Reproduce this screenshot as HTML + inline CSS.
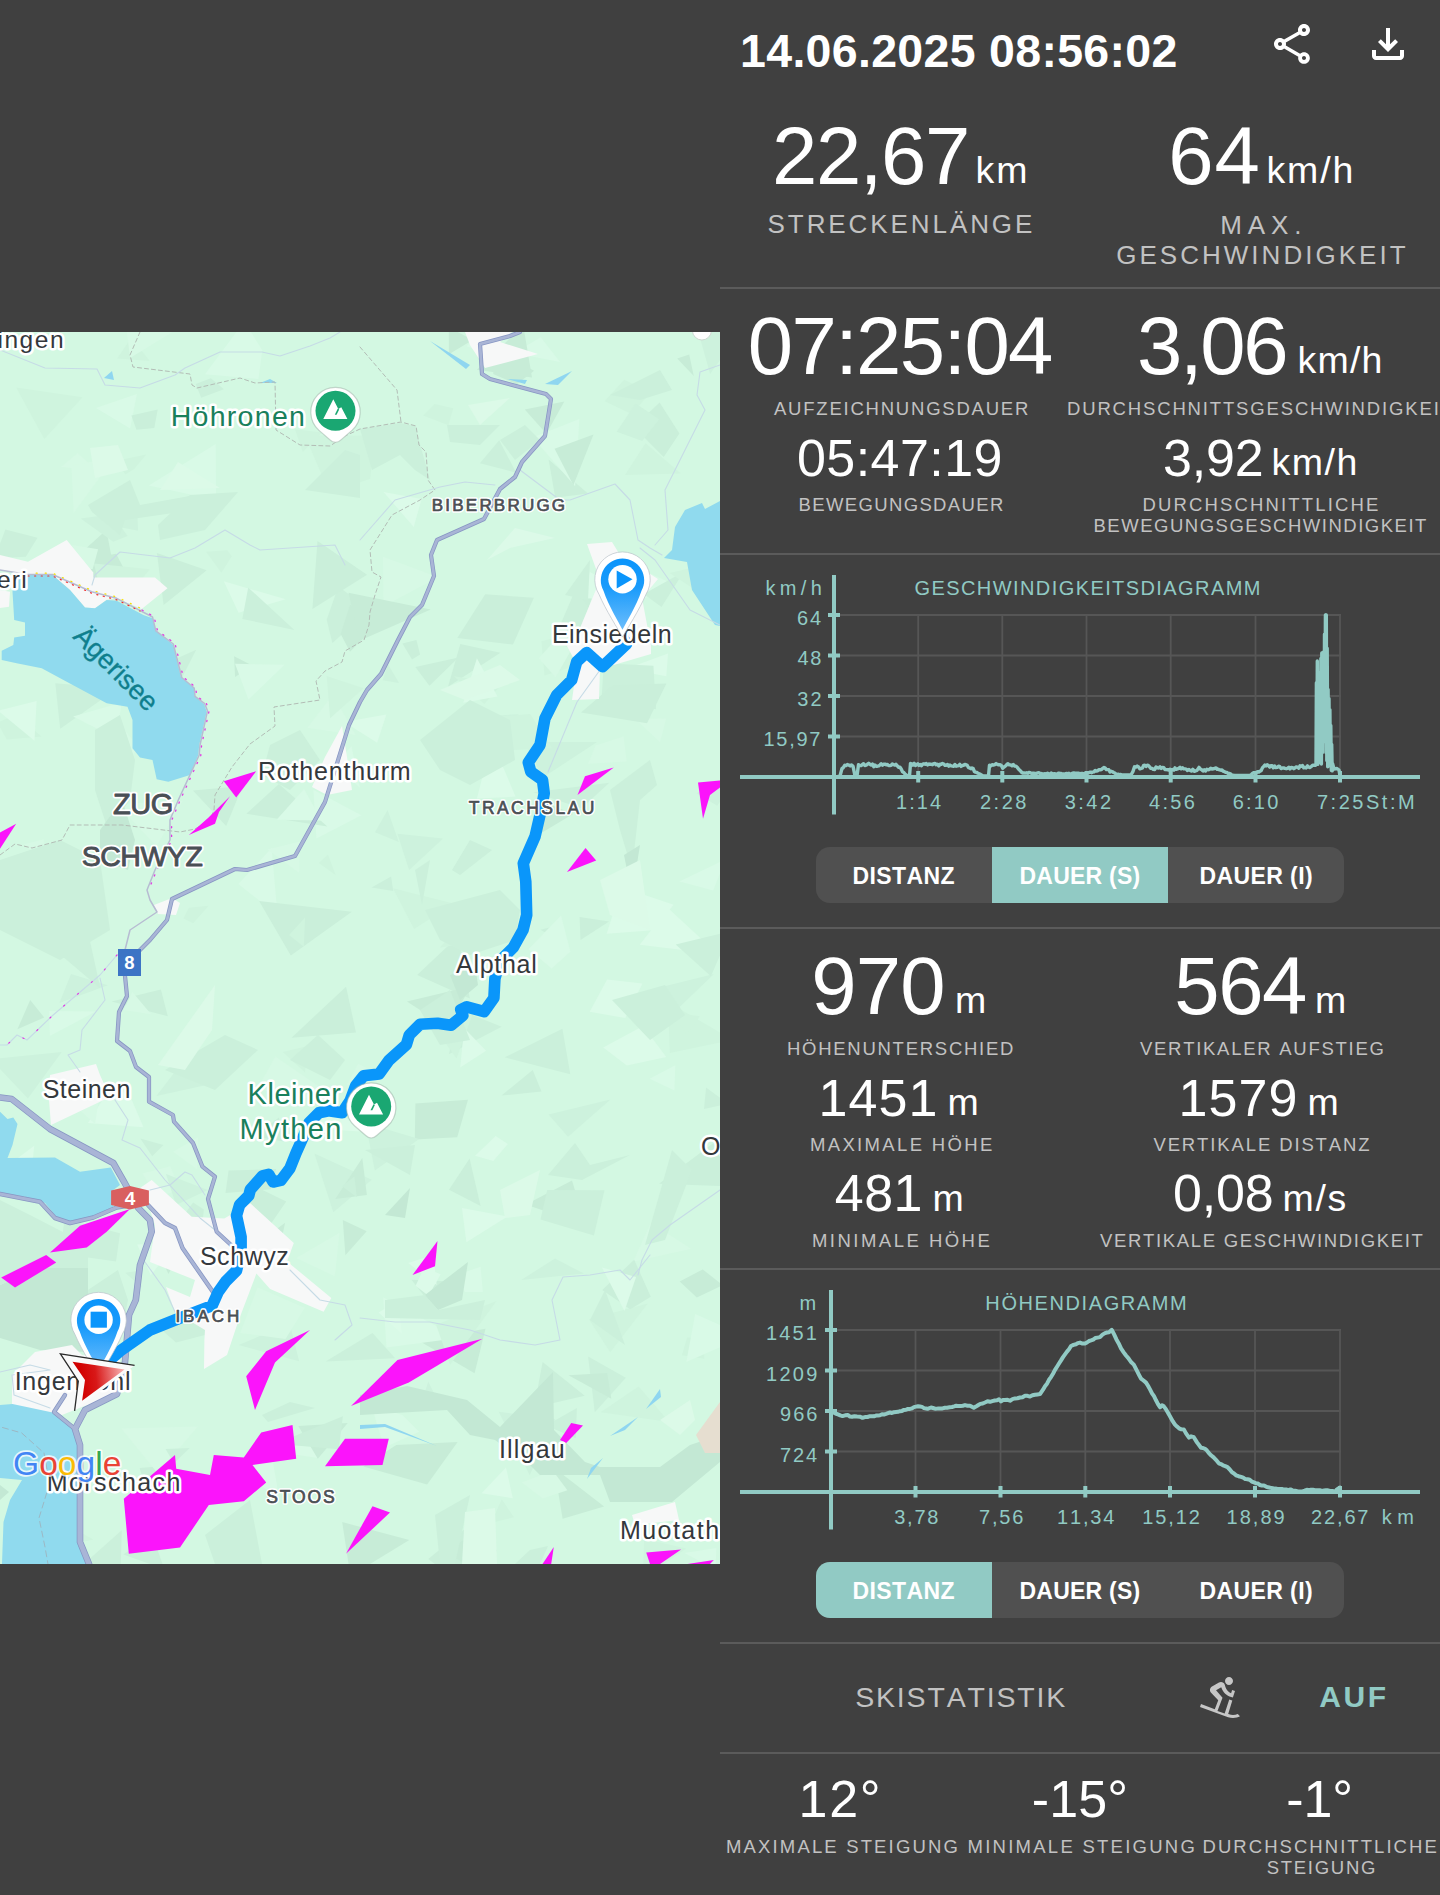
<!DOCTYPE html>
<html lang="de"><head><meta charset="utf-8"><title>Track 14.06.2025 08:56:02</title>
<style>
html,body{margin:0;padding:0}
body{width:1440px;height:1895px;overflow:hidden;background:#404040;position:relative;font-family:"Liberation Sans",sans-serif}
.t{position:absolute;white-space:nowrap;line-height:1;font-kerning:none}
.r{position:absolute;display:block}
#map{position:absolute;left:0;top:332px;width:720px;height:1232px;overflow:hidden;background:#d3f8e2}
</style></head><body>
<div id="map"><svg width="720" height="1232" viewBox="0 332 720 1232" style="display:block;font-family:'Liberation Sans',sans-serif;font-kerning:none"><polygon points="291.6,1037.7 346.1,986.7 356,1032.6" fill="#caefda" />
<polygon points="371.1,1404.8 402.7,1415.3 419.2,1431.8 384.2,1447.5" fill="#d9fae7" />
<polygon points="411.5,1279.8 453.7,1281.5 431.6,1305.2" fill="#caefda" />
<polygon points="505.6,730.6 494.7,715.7 518.7,714.2" fill="#cdf2dd" />
<polygon points="144.1,1483.1 139.6,1468.1 160.8,1466.3 166.2,1477.3" fill="#caefda" />
<polygon points="85.3,1208.6 94.3,1195.5 106.1,1203.1 97.6,1210.3" fill="#d7f9e5" />
<polygon points="735,338.8 710.1,374.1 691.1,306" fill="#cdf2dd" />
<polygon points="720.6,581.7 727.4,597.7 700.2,597.1" fill="#c7ecd7" />
<polygon points="238.4,884 271.6,848.1 277.5,915" fill="#d9fae7" />
<polygon points="113.7,1082.2 131.7,1099.7 143.5,1127.2 87.9,1123.1" fill="#dcfbe9" />
<polygon points="277.5,1451.9 324,1430.5 318.2,1458" fill="#d9fae7" />
<polygon points="546.4,433.8 524.8,409.4 564.3,401.4" fill="#c7ecd7" />
<polygon points="480.6,1205.9 449,1189.7 469.6,1158.4" fill="#caefda" />
<polygon points="366.7,1231.2 345.4,1255.3 342.8,1220.1" fill="#c7ecd7" />
<polygon points="276.2,1169.1 270.7,1189.3 225.5,1193 228.6,1170.6" fill="#caefda" />
<polygon points="473.2,1522.4 496.6,1550.5 464.1,1586.4 428.3,1558.9" fill="#caefda" />
<polygon points="326.7,619.8 338.3,586.5 369.4,609.6 332.4,642.9" fill="#cbf0db" />
<polygon points="350,651.7 340.7,633.9 350,604.7 375.4,625.6" fill="#c7ecd7" />
<polygon points="625.8,1377.8 594.8,1412.3 588.1,1356.6" fill="#cbf0db" />
<polygon points="462,1207.9 507.5,1216.5 466.4,1242.2" fill="#dcfbe9" />
<polygon points="448.8,1054.3 460.1,1010 501.7,1026.8" fill="#cbf0db" />
<polygon points="59.4,1003 71,974 107.8,985.2" fill="#cdf2dd" />
<polygon points="117.2,647.5 141.6,674.4 104.8,676.2" fill="#cff4de" />
<polygon points="367,574.8 312.4,609 317.5,541.1" fill="#caefda" />
<polygon points="197.9,1426.6 157.8,1473.4 121.2,1428.5" fill="#d7f9e5" />
<polygon points="555.7,926 562.3,942.4 540.5,929.8" fill="#cbf0db" />
<polygon points="718,954.3 639.7,944.7 668.3,908.2" fill="#dcfbe9" />
<polygon points="242.6,786.1 226.2,826 193,790.5" fill="#caefda" />
<polygon points="380.6,1075.5 367.2,1083.8 346.8,1084.8 358.2,1063.8" fill="#d7f9e5" />
<polygon points="183.4,918.4 188.9,907.7 208.7,905.7 193.2,923.2" fill="#cff4de" />
<polygon points="156.8,1198.3 142.5,1173.5 170.3,1166.2 179.6,1189" fill="#d7f9e5" />
<polygon points="418.5,1340.4 485.5,1328.8 474.6,1373.2" fill="#c7ecd7" />
<polygon points="666.1,718.4 660,742.3 635.5,718.9" fill="#d7f9e5" />
<polygon points="68.5,1335.5 78,1369.2 48.3,1360.8" fill="#c7ecd7" />
<polygon points="50.9,946.4 85.8,921.9 100.4,988.5" fill="#cbf0db" />
<polygon points="116.1,553.8 125.4,571.5 83.2,559.3" fill="#c7ecd7" />
<polygon points="299.2,873 267.4,849.4 299.9,841.5" fill="#d7f9e5" />
<polygon points="675.3,1065.2 674.4,1090.4 649.7,1078.7" fill="#d9fae7" />
<polygon points="350.4,1576 342.2,1522.1 409.3,1539.9" fill="#c7ecd7" />
<polygon points="555,1258.5 584,1273.6 521.2,1280" fill="#cdf2dd" />
<polygon points="148.1,1517 127.2,1480.8 190.6,1473.2 197.1,1521.2" fill="#cdf2dd" />
<polygon points="61.1,466.7 77.7,453.1 97.8,471.3" fill="#d7f9e5" />
<polygon points="667.9,1002.1 732.5,1039.9 669.8,1053.1" fill="#cff4de" />
<polygon points="589.7,1011.8 607.1,979.6 642.5,983.4 625.3,1018.1" fill="#dcfbe9" />
<polygon points="6.9,1264.6 52.5,1274.4 57,1295.9 0.5,1288.2" fill="#d9fae7" />
<polygon points="290.8,955.6 259.1,900.9 351.8,911.8" fill="#caefda" />
<polygon points="43.8,839.2 43.4,859.2 23.4,844.6" fill="#d7f9e5" />
<polygon points="275.3,1268.9 222.5,1268.9 285.1,1222.7" fill="#c7ecd7" />
<polygon points="190.4,1051.8 224.6,1081 156.4,1095.9" fill="#cdf2dd" />
<polygon points="472.6,339.9 448.9,354.2 448.8,327.2" fill="#c7ecd7" />
<polygon points="334.2,764.7 351.5,746.2 359.9,787.8" fill="#d9fae7" />
<polygon points="334.8,1276.2 296.1,1258.1 339.5,1232.8" fill="#d7f9e5" />
<polygon points="460.2,1067.4 464.1,1027.9 486.2,1050.7" fill="#dcfbe9" />
<polygon points="152.2,1156.3 140.3,1138.4 163.5,1145.1" fill="#cbf0db" />
<polygon points="457.6,1442.1 427.1,1484.4 363.3,1466.5 396.3,1445.1" fill="#c7ecd7" />
<polygon points="34.2,1145.8 30,1188.6 -12.7,1181" fill="#dcfbe9" />
<polygon points="586.2,617.2 575.4,602.7 593.2,592.4" fill="#caefda" />
<polygon points="235.1,676.9 234.1,656.3 252.2,665.5" fill="#c7ecd7" />
<polygon points="573.1,814.1 537.1,835.6 544.3,802" fill="#c7ecd7" />
<polygon points="647.8,1303.6 610.2,1352.2 588.9,1319.3" fill="#cff4de" />
<polygon points="717.2,805.8 696.6,793.3 712.7,782.9 732.2,783.7" fill="#cdf2dd" />
<polygon points="540.8,337.2 560.1,362 513.9,352.9" fill="#d9fae7" />
<polygon points="347.7,1423.1 317.8,1458.7 298.3,1425.9" fill="#c7ecd7" />
<polygon points="480.6,1266.8 482.8,1292.1 465,1291.9 456.7,1274.9" fill="#d9fae7" />
<polygon points="600.7,1412.2 638.6,1386.4 669.1,1422.1" fill="#cff4de" />
<polygon points="444,1552.1 470.2,1536.1 467.4,1564.7" fill="#c7ecd7" />
<polygon points="178.6,1222.3 193.1,1202.4 203.9,1209.4 201.7,1227.5" fill="#cbf0db" />
<polygon points="167.8,1016.3 111.6,1001.5 160.9,989.6" fill="#caefda" />
<polygon points="479.9,463.3 499.2,440.3 516.2,472.7" fill="#cbf0db" />
<polygon points="542.6,1362.1 584.7,1395.7 534.2,1407.5" fill="#caefda" />
<polygon points="163.6,605.1 156.9,552.9 206.7,570.2" fill="#caefda" />
<polygon points="95,1123.9 81.1,1111.3 98.9,1099.2" fill="#d7f9e5" />
<polygon points="597,742.1 542.8,777.5 524.4,741.9" fill="#cdf2dd" />
<polygon points="532.7,1070 541.5,1091.6 501.4,1095.6" fill="#caefda" />
<polygon points="395.1,596.5 387,564 420.4,581.3" fill="#cff4de" />
<polygon points="438.3,577.3 383.5,606.2 383,556.8" fill="#d7f9e5" />
<polygon points="468.5,751.8 483.1,717.5 530.2,714.1 552.2,748.3" fill="#cff4de" />
<polygon points="644.1,1538.7 686.2,1548.6 643,1578.4" fill="#cff4de" />
<polygon points="151.1,1014.3 123.6,1009.9 132.4,992" fill="#d7f9e5" />
<polygon points="457.2,1137.3 414.8,1139.4 415.4,1103.4 468,1099.8" fill="#c7ecd7" />
<polygon points="61.5,1275.7 68.9,1302.9 25,1326.5 3.3,1282.7" fill="#cbf0db" />
<polygon points="621.6,887.3 673.7,904.7 652.8,930.3 606.6,933.7" fill="#dcfbe9" />
<polygon points="498.7,1411.7 555.3,1419.2 529.7,1475.2" fill="#cdf2dd" />
<polygon points="304.8,435.2 374.8,435.8 370.2,478.8 329.4,492.7" fill="#cff4de" />
<polygon points="176.8,1242.7 150.7,1275.3 137.2,1244.4" fill="#dcfbe9" />
<polygon points="-5.5,558.4 5.4,529.6 37.5,537.8 25.8,556.8" fill="#cbf0db" />
<polygon points="603.6,552.1 669.2,582.2 615.8,618" fill="#d9fae7" />
<polygon points="430.7,609.6 359.4,640.7 348.5,592.8" fill="#c7ecd7" />
<polygon points="512.8,1498.2 481.6,1493.3 506,1467.4" fill="#dcfbe9" />
<polygon points="609.3,782.8 581.6,808.2 533.4,792.3" fill="#cbf0db" />
<polygon points="679.4,881.5 725.7,859.3 713.1,890.4" fill="#d9fae7" />
<polygon points="175.5,690.3 143.3,673.5 196.2,649.7" fill="#cbf0db" />
<polygon points="82.5,397.3 44.3,439 16.2,387.4" fill="#cff4de" />
<polygon points="415.6,1285.7 424.1,1267.6 440.7,1274.3 428.5,1295.8" fill="#dcfbe9" />
<polygon points="-9.1,1059.3 61.8,1052 27.9,1098.4" fill="#cdf2dd" />
<polygon points="34.8,1444 74.3,1429.7 49.9,1477.2" fill="#dcfbe9" />
<polygon points="528.3,949.2 561,915.5 570.4,951.7 551.7,968.4" fill="#d9fae7" />
<polygon points="501.7,1499.3 514,1517.3 491.2,1522.9" fill="#cff4de" />
<polygon points="95.7,1011.6 49.9,1036 49.1,1010.9" fill="#d9fae7" />
<polygon points="302.8,452.1 294.9,429.3 322.2,432.6" fill="#cff4de" />
<polygon points="316.4,838.4 313.4,789.8 361.4,815.3" fill="#d9fae7" />
<polygon points="408.3,1263 433.5,1254.7 436.6,1285.1" fill="#dcfbe9" />
<polygon points="417.2,975 458.5,936.1 469.8,998.6" fill="#caefda" />
<polygon points="41.6,736.6 6.7,739.4 -2.6,722.7 15.8,715" fill="#cff4de" />
<polygon points="-1.8,710.8 36.6,701.1 34.5,740.7" fill="#dcfbe9" />
<polygon points="371.5,887.5 391.1,876.5 393.2,891" fill="#cbf0db" />
<polygon points="386.5,1347.5 383.2,1297.2 458.4,1338.1" fill="#d9fae7" />
<polygon points="594.8,659.8 544.5,675.6 541.4,641.2 585.3,629.6" fill="#cff4de" />
<polygon points="259.5,1188.6 286.2,1201.6 261.1,1237.9 234.3,1204.1" fill="#caefda" />
<polygon points="668,653.5 666.3,676.3 626.4,668.8" fill="#dcfbe9" />
<polygon points="173.1,1151.7 198.1,1137.3 197.1,1169.3" fill="#d7f9e5" />
<polygon points="423.1,415.6 434.6,403.9 453.3,408.2 448.4,425.3" fill="#cff4de" />
<polygon points="429.4,685.8 415.4,667 458.5,657.5" fill="#caefda" />
<polygon points="472.5,1014.4 456.5,1058.6 421.1,1008.6" fill="#cff4de" />
<polygon points="687.1,1337.5 703.7,1338.1 704.3,1358.7 681.9,1355.2" fill="#cff4de" />
<polygon points="691.2,1248.7 633,1261.8 650.8,1222.8" fill="#d7f9e5" />
<polygon points="604.7,401.3 624.3,379.7 650.8,392.4 631.4,414" fill="#cff4de" />
<polygon points="397.4,833.7 443,838.6 409.1,870.1" fill="#cdf2dd" />
<polygon points="371.7,1179.8 333.3,1212.3 314.4,1153.4" fill="#cdf2dd" />
<polygon points="119.6,1602.1 81.3,1566.2 121.8,1530.3" fill="#cbf0db" />
<polygon points="136.9,394 130.1,428.5 95.9,408.1" fill="#d9fae7" />
<polygon points="402,1333.9 378.6,1312.4 398,1300.8" fill="#dcfbe9" />
<polygon points="413.7,527.1 383.5,492 421.6,499" fill="#dcfbe9" />
<polygon points="486.7,353.2 466.7,346.3 491.9,319.9" fill="#d9fae7" />
<polygon points="374.8,1170.4 365.5,1123 419.1,1138.9" fill="#cdf2dd" />
<polygon points="669.9,1016.3 664.6,986.2 713.9,974.1" fill="#cdf2dd" />
<polygon points="572.5,647.8 555.6,677.2 538.6,658.3 551.7,643.9" fill="#d7f9e5" />
<polygon points="165.5,1448.9 189.7,1448 174,1463.2" fill="#cbf0db" />
<polygon points="248.5,699.5 235,663.8 284.5,664.8" fill="#d9fae7" />
<polygon points="125.3,474.6 116.4,460.7 146.3,454.4 134.2,468.9" fill="#cff4de" />
<polygon points="252,1259.3 232.6,1276.4 212.4,1256.3 224,1251" fill="#c7ecd7" />
<polygon points="650.8,1296.7 630.3,1309.3 602.3,1290 634.2,1259.8" fill="#caefda" />
<polygon points="60,1253.5 64.6,1219.1 120,1233.2 116,1261.4" fill="#cbf0db" />
<polygon points="201.2,397.7 195.7,384.1 210.9,378.2 223.9,389.2" fill="#cbf0db" />
<polygon points="106.4,530 118.3,593 41.6,588.6" fill="#c7ecd7" />
<polygon points="159.3,1327.7 186.7,1313.6 210.7,1333.4 176.1,1342.5" fill="#cbf0db" />
<polygon points="636.1,1276.9 624.5,1311.1 602,1267.6" fill="#dcfbe9" />
<polygon points="98.1,549.3 92.7,569 63.5,573.8 72.5,544.9" fill="#d7f9e5" />
<polygon points="289.6,1323.2 299.1,1361.3 238.7,1345.1" fill="#cdf2dd" />
<polygon points="71.4,465.6 114.6,457.6 73.7,512.9" fill="#d7f9e5" />
<polygon points="136.4,429.8 131.4,415.6 157.7,409.4 154.3,428" fill="#caefda" />
<polygon points="603.8,663.3 653.4,665.8 656.1,709.3 601.5,699.5" fill="#cbf0db" />
<polygon points="500.4,652.7 448,686.7 460.3,643.9" fill="#caefda" />
<polygon points="568.5,1375.2 607.2,1372.9 611.3,1398.8" fill="#c7ecd7" />
<polygon points="695.2,1313.9 745.1,1336.2 686.3,1361.9" fill="#d9fae7" />
<polygon points="716.4,1547.9 715.4,1569.6 684.5,1553" fill="#d9fae7" />
<polygon points="395.1,1358.2 325.6,1361.6 372.5,1333.1" fill="#cbf0db" />
<polygon points="587.9,493.6 555.3,497.7 548.6,459.6" fill="#caefda" />
<polygon points="532.6,437.5 579.4,419 575.1,486.2" fill="#d9fae7" />
<polygon points="392.9,888.2 453.5,903.4 414.1,928.9" fill="#cff4de" />
<polygon points="322.1,1088.5 290.8,1107.1 258.8,1086 275.4,1056.5" fill="#d7f9e5" />
<polygon points="55.3,683.2 117.1,688.5 60.2,728.7" fill="#cbf0db" />
<polygon points="164.2,1569 123.4,1554.6 152.3,1534.4" fill="#cbf0db" />
<polygon points="284,1141.5 254.8,1136.4 278.9,1117.4" fill="#caefda" />
<polygon points="534.1,370.7 516.8,384.3 493.2,373.9 496.8,350.8" fill="#c7ecd7" />
<polygon points="637.7,600.1 584.5,598.2 589.6,571.8" fill="#dcfbe9" />
<polygon points="562.6,1518.8 554.3,1468.1 604.1,1506.6" fill="#c7ecd7" />
<polygon points="113.2,541.8 80.7,518.5 111.9,514.2 127.6,535.9" fill="#cdf2dd" />
<polygon points="579.6,917 609.1,921.4 580.5,939.9" fill="#caefda" />
<polygon points="342.9,1416.2 338.8,1449.2 275.7,1443.8" fill="#caefda" />
<polygon points="643.9,594 683.7,571.8 661.5,607.1" fill="#cbf0db" />
<polygon points="362.3,1157.9 366.9,1195.1 335.3,1199.1" fill="#c7ecd7" />
<polygon points="240.3,1332.9 257.6,1287.5 304.7,1307.8 285.5,1339" fill="#d7f9e5" />
<polygon points="416.4,639.9 420.1,654.6 412,659.4 402.4,643.6" fill="#caefda" />
<polygon points="168.5,1274.1 157.1,1249.4 177.3,1256.9" fill="#c7ecd7" />
<polygon points="573.4,485.2 554.6,448.8 593.5,434.4" fill="#c7ecd7" />
<polygon points="491.8,740.4 515.5,796.6 476.9,798.6" fill="#dcfbe9" />
<polygon points="484.3,703.9 453.9,676.3 501.9,683.7" fill="#cff4de" />
<polygon points="406.9,1001.4 470.9,986.2 447.4,1027.6" fill="#c7ecd7" />
<polygon points="238.6,612.8 223.8,581.3 285.7,599.3" fill="#dcfbe9" />
<polygon points="680.8,473.5 625,475.1 645.5,443.3" fill="#cff4de" />
<polygon points="714.2,1142.6 748.2,1187.1 659,1183.7" fill="#caefda" />
<polygon points="289.1,935 305.1,917.4 303.8,946.7" fill="#cff4de" />
<polygon points="609.9,1481.3 626.4,1471.2 626.2,1487.5" fill="#dcfbe9" />
<polygon points="689.2,354.5 693.8,376 677.2,358.6" fill="#c7ecd7" />
<polygon points="156.6,846.3 116.3,804.3 182.8,800.7" fill="#d7f9e5" />
<polygon points="106.1,524.6 136.8,501.8 138.1,530.8" fill="#cdf2dd" />
<polygon points="116.6,634.4 125.9,608.1 149.4,621.3" fill="#d9fae7" />
<polygon points="30.2,1000.1 44.2,1017.5 17.4,1029.3" fill="#c7ecd7" />
<polygon points="669.6,573.1 730.7,558.8 721,606.8" fill="#cff4de" />
<polygon points="149.8,569.3 107,620.5 94,563.4" fill="#cff4de" />
<polygon points="533.9,597.7 513,644.5 457.3,637.9 485.2,594.3" fill="#caefda" />
<polygon points="206,551.8 227.3,550.2 231.8,556.3 221.4,572.8" fill="#cff4de" />
<polygon points="110.3,770.9 97.5,735.1 113.4,716.5 140.2,748.8" fill="#d7f9e5" />
<polygon points="382.6,680.2 388,664.2 399.1,682.9" fill="#cdf2dd" />
<polygon points="149.8,361 117.2,358.5 131.1,338.1" fill="#cff4de" />
<polygon points="603.2,1047.5 643.1,1026 666.3,1057.1 626.8,1065.4" fill="#dcfbe9" />
<polygon points="521.8,1482.4 552.9,1470.7 567.4,1490.2 542.5,1498.4" fill="#d7f9e5" />
<polygon points="475,1155.8 495.6,1135.9 507.9,1144.1 493.3,1161.1" fill="#dcfbe9" />
<polygon points="575.8,588.7 605.4,631.6 556.8,632.9" fill="#cbf0db" />
<polygon points="73.1,716.5 121.6,702.4 116.5,738.4" fill="#d9fae7" />
<polygon points="572,1180.6 585.5,1224.9 525.8,1204.6" fill="#c7ecd7" />
<polygon points="315.8,1128.4 330,1105.4 363.8,1131.8" fill="#dcfbe9" />
<polygon points="706.1,1087.6 727.9,1103.6 704,1109.1" fill="#cbf0db" />
<polygon points="439.8,947.8 461.7,923.1 476.3,941.3" fill="#cff4de" />
<polygon points="377.1,742.8 344.2,722.1 386.4,714.6" fill="#dcfbe9" />
<polygon points="696.8,1297.5 679.7,1281.4 702.7,1269.4 722.7,1285.1" fill="#c7ecd7" />
<polygon points="192.3,737.3 159.8,739.7 164.8,721.7" fill="#cbf0db" />
<polygon points="634,427.1 659.6,402.6 679.4,433.4 663.7,456.9" fill="#caefda" />
<polygon points="141.4,1287.3 125.3,1272.8 142.4,1270.3" fill="#cdf2dd" />
<polygon points="318.8,862.9 328,854.5 335.8,875.3" fill="#cff4de" />
<polygon points="710.9,976.2 675.7,944.6 730.4,931.1" fill="#cbf0db" />
<polygon points="278.9,784.1 327.4,826.5 246.3,813.8" fill="#caefda" />
<polygon points="244.4,321.4 262.3,350.3 258.4,379 205,374.2" fill="#d9fae7" />
<polygon points="307.3,727.8 332.9,694.4 355.7,734.9" fill="#d7f9e5" />
<polygon points="642.2,441.1 616.7,431.7 635.5,403.4 659.3,419.2" fill="#cdf2dd" />
<polygon points="626.7,761.6 588.1,763.8 595.6,745.5 623.6,736.6" fill="#d7f9e5" />
<polygon points="31.9,1553.6 38.4,1509.8 93.4,1539.6" fill="#cff4de" />
<polygon points="504.7,1057.3 562.4,1028.7 570.3,1074.2" fill="#cbf0db" />
<polygon points="463.2,702.8 476.9,658.3 497.5,696.6" fill="#dcfbe9" />
<polygon points="244.9,1280 244.7,1260.6 268.2,1262.8" fill="#cdf2dd" />
<polygon points="387.6,809.9 398.8,841.9 375,832.2" fill="#cdf2dd" />
<polygon points="354.4,1176.4 356.9,1197.3 342.1,1186.3" fill="#cbf0db" />
<polygon points="523.3,325.6 532,377.5 476.9,369.8" fill="#c7ecd7" />
<polygon points="575.7,1438.2 546,1425.4 576.9,1408.1" fill="#cbf0db" />
<polygon points="294.4,630 242.3,618.9 248.2,587.5" fill="#cbf0db" />
<polygon points="439.9,1405.2 423.4,1396.9 428.3,1381.6" fill="#cdf2dd" />
<polygon points="330.1,718.3 326.7,676.1 363.5,688.2" fill="#cff4de" />
<polygon points="148.8,485.5 215.7,444.1 216,500" fill="#d9fae7" />
<polygon points="276.6,819.8 304,788.9 321.7,820.4" fill="#d9fae7" />
<polygon points="237,1468.7 270.1,1445.5 279.2,1498.4" fill="#d9fae7" />
<polygon points="20.2,641.3 87,601.3 59.7,658.3" fill="#cff4de" />
<polygon points="540.5,1219.4 547.2,1189.9 604.5,1190.3 593.9,1235.5" fill="#cbf0db" />
<polygon points="496.5,1300.9 450.1,1364.8 436.1,1324.7" fill="#cff4de" />
<polygon points="673.3,1012.4 699.9,1016.3 686.4,1034.8" fill="#cff4de" />
<polygon points="610.4,1099.4 568,1136.8 548.6,1114.4" fill="#cdf2dd" />
<polygon points="613,685.3 666.4,683.5 647,723.2 581,712.4" fill="#caefda" />
<polygon points="207.8,1189.9 176,1204.9 166,1174" fill="#cdf2dd" />
<polygon points="305.1,1072.6 282.7,1052.1 306.8,1046.2" fill="#cff4de" />
<polygon points="126.4,327.2 173.8,331.3 130.1,358" fill="#d7f9e5" />
<polygon points="88,505 130,480 140,505 195,495 180,512 125,520 120,535 92,512" fill="#cbf0db" />
<polygon points="158,525 190,495 238,492 205,530 160,540" fill="#cbf0db" />
<polygon points="160,490 178,462 220,488" fill="#dcfae8" />
<polygon points="90,448 118,445 128,470 95,478" fill="#dcfae8" />
<polygon points="305,490 345,450 360,455 360,498" fill="#cbf0db" />
<polygon points="360,429 400,423 415,426 430,480 415,470 400,455 372,470" fill="#cbf0db" />
<polygon points="447,425 500,425 480,445 450,442" fill="#cbf0db" />
<polygon points="500,440 525,425 540,440 515,460" fill="#cbf0db" />
<polygon points="468,405 510,398 480,425" fill="#dcfae8" />
<polygon points="610,395 660,370 672,390 640,400" fill="#cbf0db" />
<polygon points="487,560 515,528 555,538 510,548" fill="#dcfae8" />
<polygon points="565,595 590,560 588,600" fill="#cbf0db" />
<polygon points="95,730 120,715 135,760 130,800 108,830 95,790" fill="#cbf0db" />
<polygon points="100,830 122,800 135,840 128,870 100,860" fill="#c3e8d4" />
<polygon points="0,860 60,840 100,860 110,930 60,960 0,930" fill="#cbf0db" />
<polygon points="270,745 300,730 320,760 290,790 262,775" fill="#cbf0db" />
<polygon points="420,740 470,700 510,720 515,760 470,785 440,770" fill="#cbf0db" />
<polygon points="440,690 500,665 520,680 465,700" fill="#dcfae8" />
<polygon points="610,790 650,760 657,785 640,800 632,870 620,830" fill="#cbf0db" />
<polygon points="624,855 640,845 632,895" fill="#c3e8d4" />
<polygon points="452,870 470,840 492,850 460,875" fill="#cbf0db" />
<polygon points="415,870 430,860 422,905" fill="#cbf0db" />
<polygon points="425,910 500,890 520,910 515,940 470,955 440,940" fill="#cbf0db" />
<polygon points="600,880 640,860 650,930 610,915" fill="#dcfae8" />
<polygon points="450,975 475,965 478,985 460,1000" fill="#c3e8d4" />
<polygon points="420,1010 450,990 470,1040 440,1045" fill="#cbf0db" />
<polygon points="165,1070 225,1035 258,1050 215,1090" fill="#cbf0db" />
<polygon points="158,1065 215,985 212,1030 185,1070" fill="#dcfae8" />
<polygon points="290,1060 318,1035 345,1060 330,1080" fill="#cbf0db" />
<polygon points="612,1000 665,985 685,1015 650,1040" fill="#cbf0db" />
<polygon points="548,1175 575,1143 590,1165 630,1155 582,1180" fill="#cbf0db" />
<polygon points="365,1150 415,1145 410,1175" fill="#cbf0db" />
<polygon points="385,1215 410,1188 405,1218" fill="#c3e8d4" />
<polygon points="500,1190 540,1170 530,1215 505,1218" fill="#dcfae8" />
<polygon points="645,1245 672,1150 692,1170 665,1240" fill="#cbf0db" />
<polygon points="0,1285 40,1268 88,1268 88,1352 40,1350 0,1338" fill="#c3e8d4" />
<polygon points="0,1200 30,1215 88,1245 88,1268 40,1268 0,1285" fill="#cbf0db" />
<polygon points="88,1290 118,1270 128,1300 120,1340 88,1345" fill="#cbf0db" />
<polygon points="425,1295 468,1262 462,1300 438,1310" fill="#c3e8d4" />
<polygon points="385,1300 425,1295 438,1310 485,1300 480,1320 385,1318" fill="#cbf0db" />
<polygon points="360,1395 407,1386 467,1400 500,1427 553,1372 554,1430 585,1462 600,1467 660,1467 690,1445 720,1435 720,1462 672,1502 610,1502 600,1475 540,1475 530,1465 495,1440 470,1435 447,1410 360,1415" fill="#c3e8d4" />
<polygon points="590,1320 605,1290 625,1345" fill="#cbf0db" />
<polygon points="435,1515 470,1495 455,1564 440,1564" fill="#cbf0db" />
<polygon points="465,1512 495,1508 497,1564 462,1564" fill="#dcfae8" />
<polygon points="515,1564 530,1550 548,1546 540,1564" fill="#cbf0db" />
<polygon points="660,1420 690,1400 695,1420 680,1435" fill="#dcfae8" />
<polygon points="262,1415 290,1402 315,1408 268,1422" fill="#cbf0db" />
<polygon points="205,1535 250,1500 262,1564 215,1564" fill="#cbf0db" />
<polygon points="696,1435 720,1402 720,1453 705,1453" fill="#e6ded0" />
<polygon points="0,555 28,561.7 66.7,540 93.3,572.5 93.3,577.5 155,577.5 167.5,588.3 141.7,609 116.7,598.3 106.7,599.7 95,608.3 85,607.5 70,590 52.5,575 27.5,574 0,570" fill="#f7f8f8" />
<polygon points="0,590 10,591.7 9,606.7 0,608" fill="#f7f8f8" />
<polygon points="465,332 512,332 500,342 538,354 485,368 470,345" fill="#f7f8f8" />
<polygon points="587,544 612,542 620,555 658,579 642,598 651,646 651,654 600,669 599,699 572,700 577,665 567,646 575,640 600,580" fill="#f7f8f8" />
<polygon points="342,726 325,757 312,787 327,795 352,790 347,757" fill="#f7f8f8" />
<polygon points="154,905 172,898 180,903 176,915 158,914" fill="#f7f8f8" />
<polygon points="50,1075 96,1064 100,1075 110,1097 51,1125 49,1100" fill="#f7f8f8" />
<polygon points="140,1188 151.7,1180 170,1196.7 191.7,1216.7 224.3,1218.6 250.3,1203.3 293.8,1243 287,1261.4 331.3,1298 323.6,1311.8 270.1,1288.9 256.4,1273.6 238,1322 227,1355 204,1369 204.4,1340 205,1330 175,1312 166,1287 190,1297 195,1280 150,1262 155,1225 150,1210" fill="#f7f8f8" />
<polygon points="35,1352 72,1345 82,1355 120,1360 117,1395 82,1407 62,1415 12,1405 12,1375" fill="#f7f8f8" />
<polygon points="632,1515 675,1502 679,1520 635,1525" fill="#f7f8f8" />
<polygon points="27.5,575 52.5,575 70,590 85,607.5 95,608.3 106.7,600 116.7,600.8 143.3,615 152.5,618.3 155.8,630.8 173.3,645 180.8,676.7 194.2,688.3 195,696.7 204.2,704.2 206.7,711.7 199.2,745 198.3,755 190,775 168.3,781.7 156.7,779.2 152.5,760 140,757.5 132.5,748.3 132.5,720 127.5,706.7 106.7,703.3 66.7,681.7 41.7,668.3 16.7,663.3 1.7,660 1.7,650.8 13.3,645 14.2,637.5 25,635.8 25,622.5 14.2,620 12.5,591.7 14,578" fill="#90daee" />
<polygon points="720,501 705,509 702,503 685,510 675,527 672,550 664,558 687,562 692,590 715,625 720,626" fill="#90daee" />
<polygon points="0,1111.7 7.5,1119 13.3,1117.5 17.5,1124 12.5,1145 7.5,1158 55,1157.5 80,1171.7 110.8,1167.5 120,1185 113.3,1190 113.3,1206.7 93.3,1216.7 73.3,1221.7 58.3,1219 45,1203 25,1196.7 0,1193" fill="#90daee" />
<polygon points="0,1405 12.5,1404 55,1413 73.3,1428 77.5,1445 77.5,1540 83.3,1550 86.7,1564 0,1564" fill="#90daee" />
<polygon points="0,1478 22,1480 10,1500 3.5,1522 2,1564 0,1564" fill="#d3f8e2" />
<polygon points="0,1485 9,1492 0,1500" fill="#c3e8d4" />
<polygon points="430,341 470,365 466,369" fill="#8fd6f0" />
<polygon points="507,379 527,380 525,384" fill="#8fd6f0" />
<polygon points="545,384 572,371 558,385" fill="#8fd6f0" />
<polygon points="104,378 112,371 114,380" fill="#8fd6f0" />
<polygon points="260,383 270,379 277,383" fill="#8fd6f0" />
<polygon points="646,1409 660,1389 661,1397" fill="#8fd6f0" />
<polygon points="610,1436 638,1417 625,1430" fill="#8fd6f0" />
<polygon points="587,1479 603,1458 591,1468" fill="#8fd6f0" />
<polygon points="360,1425 385,1424 437,1446 385,1427 360,1429" fill="#8fd6f0" />
<polyline points="140,332 130,355 133,367 190,374 192,385 197,388 240,378 255,383 275,382 276,430 300,445 330,446 345,436 360,429 401,422 416,426 419,445 426,452 428,480 435,490 420,500 392,515 370,550 372,572 381,577 375,595 370,612 369,625 364,640 345,651 342,662 325,671 316,681 320,700 274,707 275,726 250,744 232,767 215,795 214,810 210,820 195,829 180,832 122,825 70,825 62,840 32,848 15,844 0,855" fill="none" stroke="#b3bdb6" stroke-width="1" stroke-linejoin="round" stroke-linecap="round" stroke-dasharray="4 3"/>
<polyline points="360,347 397,390 401,422" fill="none" stroke="#b3bdb6" stroke-width="1" stroke-linejoin="round" stroke-linecap="round" stroke-dasharray="4 3"/>
<polyline points="2.5,1427.5 21.7,1433 44,1453 48,1475 46.7,1493 39,1518 45,1547 48,1564" fill="none" stroke="#9cb8c4" stroke-width="1" stroke-linejoin="round" stroke-linecap="round" stroke-dasharray="6 4"/>
<polyline points="0,350 45,368 97,369 105,385 140,388 175,375 185,368 220,352 262,352 280,356 310,346 330,338 340,332" fill="none" stroke="#c6dbe6" stroke-width="1.1" stroke-linejoin="round" stroke-linecap="round" />
<polyline points="92,585 95,575 120,552 170,558 195,548 225,530 250,545 260,550 335,545 345,565" fill="none" stroke="#c6dbe6" stroke-width="1.1" stroke-linejoin="round" stroke-linecap="round" />
<polyline points="360,540 395,500 440,487 465,482 495,485" fill="none" stroke="#c6dbe6" stroke-width="1.1" stroke-linejoin="round" stroke-linecap="round" />
<polyline points="520,470 560,500 570,500 615,484 630,500 638,540 650,548 662,555" fill="none" stroke="#c6dbe6" stroke-width="1.1" stroke-linejoin="round" stroke-linecap="round" />
<polyline points="720,365 700,372 697,395 705,410 690,440 665,490 668,530 655,545" fill="none" stroke="#c6dbe6" stroke-width="1.1" stroke-linejoin="round" stroke-linecap="round" />
<polyline points="640,548 655,560 690,610 720,625" fill="none" stroke="#c6dbe6" stroke-width="1.1" stroke-linejoin="round" stroke-linecap="round" />
<polyline points="600,670 577,702 548,772" fill="none" stroke="#c6dbe6" stroke-width="1.1" stroke-linejoin="round" stroke-linecap="round" />
<polyline points="117,955 100,975 52,1016 27,1040 17,1035 7,1045 0,1045" fill="none" stroke="#c6dbe6" stroke-width="1.1" stroke-linejoin="round" stroke-linecap="round" />
<polyline points="100,978 105,1000 82,1030 80,1050 68,1055 80,1072" fill="none" stroke="#c6dbe6" stroke-width="1.1" stroke-linejoin="round" stroke-linecap="round" />
<polyline points="115,1100 128,1120 122,1140 140,1148 165,1180 200,1218 215,1230" fill="none" stroke="#c6dbe6" stroke-width="1.1" stroke-linejoin="round" stroke-linecap="round" />
<polyline points="150,1190 170,1185 185,1172 192,1175 205,1195" fill="none" stroke="#c6dbe6" stroke-width="1.1" stroke-linejoin="round" stroke-linecap="round" />
<polyline points="720,1190 670,1225 652,1240 642,1260 638,1275" fill="none" stroke="#c6dbe6" stroke-width="1.1" stroke-linejoin="round" stroke-linecap="round" />
<polyline points="360,1318 395,1322 430,1322 470,1330 500,1340 535,1345 560,1340 552,1300 563,1277 590,1275 620,1270 630,1280 650,1255" fill="none" stroke="#c6dbe6" stroke-width="1.1" stroke-linejoin="round" stroke-linecap="round" />
<polyline points="145,1262 165,1290 175,1312" fill="none" stroke="#c6dbe6" stroke-width="1.1" stroke-linejoin="round" stroke-linecap="round" />
<polyline points="290,1270 320,1300 345,1305 352,1325 335,1340" fill="none" stroke="#c6dbe6" stroke-width="1.1" stroke-linejoin="round" stroke-linecap="round" />
<polyline points="0,1372 30,1365 50,1370 12,1375 14,1395 50,1408" fill="none" stroke="#c6dbe6" stroke-width="1.1" stroke-linejoin="round" stroke-linecap="round" />
<polyline points="0,570 27.5,574.5 52.5,574.5 91.7,591.7 116.7,598.3 152.5,617 155.8,630.8 173.3,644 181.7,677.5 194.2,688 195,696.3 204.7,703.7 207.5,710.8 200,745 199.2,755 178.3,800 170,820 170,840 155,870 147,890 150,900 157,912 130,930 125,950" fill="none" stroke="#b7bcd2" stroke-width="1.5" stroke-linejoin="round" stroke-linecap="round" />
<polyline points="28,576 52.5,576 91.7,593.2 116.7,599.8 140,611" fill="none" stroke="#f03030" stroke-width="1.2" stroke-linejoin="round" stroke-linecap="round" stroke-dasharray="1.1 5.5"/>
<polyline points="30,573.2 52.5,573.2 91.7,590.3 116.7,596.9 140,608" fill="none" stroke="#f5e000" stroke-width="1.2" stroke-linejoin="round" stroke-linecap="round" stroke-dasharray="1.1 8" stroke-dashoffset="3"/>
<polyline points="142,610 154,616.5 157.5,630.5 175,643.5 183.3,677 195.8,687.5 196.6,696 206.3,703.2 209.1,710.8 201.6,745 200.8,755.5 180,800.5 171.6,820.5 171.6,840.5 156.6,870.5 148.6,890" fill="none" stroke="#e23be2" stroke-width="1.3" stroke-linejoin="round" stroke-linecap="round" stroke-dasharray="1.2 7.5"/>
<polyline points="117,955 100,975 52,1016 27,1040 17,1035 7,1045" fill="none" stroke="#e23be2" stroke-width="1.2" stroke-linejoin="round" stroke-linecap="round" stroke-dasharray="1.2 17"/>
<polyline points="0,1097.5 11.7,1099 50,1129 113.3,1163 124,1181.7 138.3,1208 150,1220 151.7,1231.7 140,1265 135.8,1300 129,1315 125,1362 117,1394 85,1410 75,1429 80,1445 80,1542 89,1564" fill="none" stroke="#8796c3" stroke-width="6.6" stroke-linejoin="round" stroke-linecap="round" />
<polyline points="65,1395 54,1412 75,1429" fill="none" stroke="#8796c3" stroke-width="4.4" stroke-linejoin="round" stroke-linecap="round" />
<polyline points="0,1194 40,1201.7 55,1218 70,1223 93.3,1217.5 116.7,1207.5 126,1206" fill="none" stroke="#8796c3" stroke-width="4.6" stroke-linejoin="round" stroke-linecap="round" />
<polyline points="148,1205 165,1223 175,1228 182.5,1248 213,1292" fill="none" stroke="#8796c3" stroke-width="4.4" stroke-linejoin="round" stroke-linecap="round" />
<polyline points="520,332 510,336 480,344 482,374 490,379 546,394 551,399 545,436 522,462 515,477 500,489 484,519 437,540 431,555 434,576 422,605 410,617 398,640 381,674 367,690 360,702 349,725 325,802 295,856 247,870 235,869 172,899 167,920 150,940 140,950 128,962 125,976 127,996 119,1012 117,1041 130,1051 136,1067 149,1077 149,1101.7 173,1115 174,1121.7 193,1143 202.5,1166.7 215,1176.7 208,1199 216.7,1231.7 233,1246.7 240,1250" fill="none" stroke="#8796c3" stroke-width="4.2" stroke-linejoin="round" stroke-linecap="round" />
<polyline points="0,1097.5 11.7,1099 50,1129 113.3,1163 124,1181.7 138.3,1208 150,1220 151.7,1231.7 140,1265 135.8,1300 129,1315 125,1362 117,1394 85,1410 75,1429 80,1445 80,1542 89,1564" fill="none" stroke="#a9b5d6" stroke-width="5.1" stroke-linejoin="round" stroke-linecap="round" />
<polyline points="65,1395 54,1412 75,1429" fill="none" stroke="#a9b5d6" stroke-width="2.9000000000000004" stroke-linejoin="round" stroke-linecap="round" />
<polyline points="0,1194 40,1201.7 55,1218 70,1223 93.3,1217.5 116.7,1207.5 126,1206" fill="none" stroke="#a9b5d6" stroke-width="3.0999999999999996" stroke-linejoin="round" stroke-linecap="round" />
<polyline points="148,1205 165,1223 175,1228 182.5,1248 213,1292" fill="none" stroke="#a9b5d6" stroke-width="2.9000000000000004" stroke-linejoin="round" stroke-linecap="round" />
<polyline points="520,332 510,336 480,344 482,374 490,379 546,394 551,399 545,436 522,462 515,477 500,489 484,519 437,540 431,555 434,576 422,605 410,617 398,640 381,674 367,690 360,702 349,725 325,802 295,856 247,870 235,869 172,899 167,920 150,940 140,950 128,962 125,976 127,996 119,1012 117,1041 130,1051 136,1067 149,1077 149,1101.7 173,1115 174,1121.7 193,1143 202.5,1166.7 215,1176.7 208,1199 216.7,1231.7 233,1246.7 240,1250" fill="none" stroke="#a9b5d6" stroke-width="2.7" stroke-linejoin="round" stroke-linecap="round" />
<polygon points="223.8,781.2 256.2,771.2 236.2,797.5" fill="#fb14fb" />
<polygon points="188.8,835 208,818 230,796.2 219,812 215,823.8" fill="#fb14fb" />
<polygon points="0,832.5 16.2,823.8 0,848.8" fill="#fb14fb" />
<polygon points="577.5,795 585,776.2 613.8,767.5" fill="#fb14fb" />
<polygon points="698,782.5 720,780.5 720,787.5 710,795 703,818.8" fill="#fb14fb" />
<polygon points="567,872 585.5,848 596.2,860.5" fill="#fb14fb" />
<polygon points="50,1252.5 80,1225.8 130,1209 106.7,1231.7 86.7,1247.5" fill="#fb14fb" />
<polygon points="1.2,1277.5 46.2,1255 56.2,1262.5 15,1287.5" fill="#fb14fb" />
<polygon points="123.8,1498.8 175,1455 176.2,1468.8 210,1475 213.8,1455 243.8,1457.5 261.2,1432.5 292.5,1425 296.2,1458.8 252.5,1465 266.2,1482.5 243.8,1501.2 208.8,1505 180,1547.5 128.8,1553.8" fill="#fb14fb" />
<polygon points="246.2,1376.2 266.2,1351.2 310,1330 275,1362.5 255,1410" fill="#fb14fb" />
<polygon points="325,1466.2 345,1438.8 388.8,1438.8 382.5,1465" fill="#fb14fb" />
<polygon points="346,1553.8 372.5,1506.2 390,1512.5" fill="#fb14fb" />
<polygon points="351,1406 397.5,1360 482.5,1338.8 408.8,1382.5" fill="#fb14fb" />
<polygon points="412.5,1275 437.5,1241 435,1266.2" fill="#fb14fb" />
<polygon points="560,1440 571.2,1423 583,1425.5 566.2,1443" fill="#fb14fb" />
<polygon points="542.5,1564 553.8,1547 551.2,1564" fill="#fb14fb" />
<polygon points="646.2,1552.5 681.2,1549.5 660,1564 650,1564" fill="#fb14fb" />
<polygon points="687.5,1564 713.8,1560 710,1564" fill="#fb14fb" />
<polyline points="623,638 626.5,644 602.5,666.7 586.7,652.5 576.7,661.7 571.7,680 556.7,695 545,718.3 540,745 528.3,762.5 530.8,771.7 542.5,780 544.2,793.3 540,815 535,836.7 523.3,863.3 525.8,881.7 526.7,915 523,930 513.3,947.5 499.7,961.1 494.9,978.6 493.9,998 484.2,1011.7 466.7,1006.8 460.8,1009.7 462.8,1015.6 451.1,1025.3 437.5,1023.3 420,1024.3 409.3,1035 406.4,1044.7 388.9,1060.3 379.2,1073.9 363.6,1075.8 355.8,1085.6 350,1101 342.2,1112.8 328.6,1110.8 318.9,1112.8 309.2,1122.5 302.2,1139.2 296.1,1152.9 290,1168.2 280.8,1180.4 273.2,1182 268.6,1174.3 262.5,1175.8 250.3,1189.6 248.8,1195.7 239.6,1204.9 236.5,1215.6 241.1,1237 241.1,1250.7 236.5,1270.6 225.8,1281.3 218.2,1292 212.1,1305.7 175,1320 150,1330 120,1351 105,1364" fill="none" stroke="#0a96fa" stroke-width="11.6" stroke-linejoin="round" stroke-linecap="round" />
<text x="-68.8" y="347.5" font-size="24.5" letter-spacing="1.57" fill="#34383c" stroke="#fff" stroke-width="5" stroke-linejoin="round" paint-order="stroke">Menzingen</text>
<text x="170.7" y="425.5" font-size="28.5" letter-spacing="1.29" fill="#19805c" stroke="#fff" stroke-width="5" stroke-linejoin="round" paint-order="stroke"  >Höhronen</text>
<text x="431.8" y="511.2" font-size="17" letter-spacing="2.21" fill="none" stroke="#fff" stroke-width="3.5" stroke-linejoin="round" aria-hidden="true">BIBERBRUGG</text>
<text x="431.8" y="511.2" font-size="17" letter-spacing="2.21" fill="#4b4f54" stroke="#4b4f54" stroke-width="0.7" stroke-linejoin="round">BIBERBRUGG</text>
<text x="551.9" y="642.5" font-size="25" letter-spacing="0.48" fill="#34383c" stroke="#fff" stroke-width="5" stroke-linejoin="round" paint-order="stroke"  >Einsiedeln</text>
<text x="-98.8" y="587.5" font-size="24.5" letter-spacing="1.23" fill="#34383c" stroke="#fff" stroke-width="5" stroke-linejoin="round" paint-order="stroke">Unterägeri</text>
<text x="257.9" y="780" font-size="25" letter-spacing="0.82" fill="#34383c" stroke="#fff" stroke-width="5" stroke-linejoin="round" paint-order="stroke"  >Rothenthurm</text>
<text x="112.9" y="813.8" font-size="29" letter-spacing="-0.36" fill="none" stroke="#fff" stroke-width="4.4" stroke-linejoin="round" aria-hidden="true">ZUG</text>
<text x="112.9" y="813.8" font-size="29" letter-spacing="-0.36" fill="#4a4f55" stroke="#4a4f55" stroke-width="0.9" stroke-linejoin="round">ZUG</text>
<text x="81.7" y="866.2" font-size="28.5" letter-spacing="-0.46" fill="none" stroke="#fff" stroke-width="4.4" stroke-linejoin="round" aria-hidden="true">SCHWYZ</text>
<text x="81.7" y="866.2" font-size="28.5" letter-spacing="-0.46" fill="#4a4f55" stroke="#4a4f55" stroke-width="0.9" stroke-linejoin="round">SCHWYZ</text>
<text x="468.8" y="813.8" font-size="17.5" letter-spacing="2.44" fill="none" stroke="#fff" stroke-width="3.5" stroke-linejoin="round" aria-hidden="true">TRACHSLAU</text>
<text x="468.8" y="813.8" font-size="17.5" letter-spacing="2.44" fill="#4b4f54" stroke="#4b4f54" stroke-width="0.7" stroke-linejoin="round">TRACHSLAU</text>
<text x="456.0" y="972.5" font-size="25" letter-spacing="0.71" fill="#34383c" stroke="#fff" stroke-width="5" stroke-linejoin="round" paint-order="stroke"  >Alpthal</text>
<text x="42.7" y="1097.5" font-size="25" letter-spacing="0.49" fill="#34383c" stroke="#fff" stroke-width="5" stroke-linejoin="round" paint-order="stroke"  >Steinen</text>
<text x="247.6" y="1103.8" font-size="29" letter-spacing="0.51" fill="#19805c" stroke="#fff" stroke-width="5" stroke-linejoin="round" paint-order="stroke"  >Kleiner</text>
<text x="239.6" y="1138.8" font-size="29" letter-spacing="1.33" fill="#19805c" stroke="#fff" stroke-width="5" stroke-linejoin="round" paint-order="stroke"  >Mythen</text>
<text x="199.9" y="1265" font-size="25" letter-spacing="0.55" fill="#34383c" stroke="#fff" stroke-width="5" stroke-linejoin="round" paint-order="stroke"  >Schwyz</text>
<text x="175.4" y="1322" font-size="17" letter-spacing="3.00" fill="none" stroke="#fff" stroke-width="3.5" stroke-linejoin="round" aria-hidden="true">IBACH</text>
<text x="175.4" y="1322" font-size="17" letter-spacing="3.00" fill="#4b4f54" stroke="#4b4f54" stroke-width="0.7" stroke-linejoin="round">IBACH</text>
<text x="14.7" y="1390" font-size="25" letter-spacing="0.74" fill="#34383c" stroke="#fff" stroke-width="5" stroke-linejoin="round" paint-order="stroke"  >Ingenbohl</text>
<text x="46.7" y="1491.2" font-size="25" letter-spacing="1.43" fill="#34383c" stroke="#fff" stroke-width="5" stroke-linejoin="round" paint-order="stroke"  >Morschach</text>
<text x="266.2" y="1502.5" font-size="17.5" letter-spacing="1.78" fill="none" stroke="#fff" stroke-width="3.5" stroke-linejoin="round" aria-hidden="true">STOOS</text>
<text x="266.2" y="1502.5" font-size="17.5" letter-spacing="1.78" fill="#4b4f54" stroke="#4b4f54" stroke-width="0.7" stroke-linejoin="round">STOOS</text>
<text x="498.9" y="1458" font-size="25" letter-spacing="1.20" fill="#34383c" stroke="#fff" stroke-width="5" stroke-linejoin="round" paint-order="stroke"  >Illgau</text>
<text x="619.9" y="1538.8" font-size="25" letter-spacing="1.47" fill="#34383c" stroke="#fff" stroke-width="5" stroke-linejoin="round" paint-order="stroke">Muotathal</text>
<text x="701" y="1155" font-size="25" fill="#34383c" stroke="#fff" stroke-width="5" stroke-linejoin="round" paint-order="stroke">Oberiberg</text>
<text transform="translate(72,637.500) rotate(45)" font-size="27" fill="#0f7f8d" stroke="#0f7f8d" stroke-width="0.350">Ägerisee</text>
<rect x="118" y="949" width="23" height="27" fill="#3d74c5"/><text x="129.500" y="969" font-size="18.500" font-weight="700" fill="#fff" text-anchor="middle">8</text>
<polygon points="111.100,1190.500 130,1186.100 148.900,1190.500 148.900,1205 130,1209.400 111.100,1205" fill="#d95f5f"/><text x="130" y="1205" font-size="19" font-weight="700" fill="#fff" text-anchor="middle">4</text>
<g transform="translate(335.5,410.8)"><path d="M0,30.800 Q-3,30.800 -5.500,28.300 L-16.500,18.800 A24.700,24.700 0 1 1 16.500,18.800 L5.500,28.300 Q3,30.800 0,30.800 Z" transform="translate(0,0.800)" fill="#fff" stroke="#9db5a8" stroke-opacity="0.550" stroke-width="1.200"/><circle r="20" fill="#1aa772"/><path d="M-12.200,8.100 L-2.200,-11.600 L2.800,-1.900 L5.800,-3.600 L11.900,8.100 Z" fill="#fff"/><path d="M2.300,-2.200 L-0.700,3.900 L1.100,3.900 L3.700,-1.300 Z" fill="#1aa772"/></g>
<g transform="translate(371.2,1106.4)"><path d="M0,30.800 Q-3,30.800 -5.500,28.300 L-16.500,18.800 A24.700,24.700 0 1 1 16.500,18.800 L5.500,28.300 Q3,30.800 0,30.800 Z" transform="translate(0,0.800)" fill="#fff" stroke="#9db5a8" stroke-opacity="0.550" stroke-width="1.200"/><circle r="20" fill="#1aa772"/><path d="M-12.200,8.100 L-2.200,-11.600 L2.800,-1.900 L5.800,-3.600 L11.900,8.100 Z" fill="#fff"/><path d="M2.300,-2.200 L-0.700,3.900 L1.100,3.900 L3.700,-1.300 Z" fill="#1aa772"/></g>
<defs><linearGradient id="pg" x1="0" y1="0" x2="0" y2="1"><stop offset="0" stop-color="#0b95fb"/><stop offset="0.400" stop-color="#1a9bfb"/><stop offset="1" stop-color="#6bbdfc"/></linearGradient></defs>
<g transform="translate(622.5,579.8000000000001)"><path d="M0,57.300 C-4,50 -17,30 -23.500,14.500 A27.700,27.700 0 1 1 23.500,14.500 C17,30 4,50 0,57.300 Z" fill="#fff" stroke="#b9c2c8" stroke-width="0.700"/><path d="M0,50 C-3.500,43 -14,26 -19,11 A21.700,21.700 0 1 1 19,11 C14,26 3.500,43 0,50 Z" fill="url(#pg)"/><circle cx="0" cy="-0.500" r="14.200" fill="#fff"/><path d="M-5.800,-9.400 L10,-0.500 L-5.800,8.600 Z" fill="#0b95fb"/></g>
<g transform="translate(98.6,1320.2)"><path d="M0,57.300 C-4,50 -17,30 -23.500,14.500 A27.700,27.700 0 1 1 23.500,14.500 C17,30 4,50 0,57.300 Z" fill="#fff" stroke="#b9c2c8" stroke-width="0.700"/><path d="M0,50 C-3.500,43 -14,26 -19,11 A21.700,21.700 0 1 1 19,11 C14,26 3.500,43 0,50 Z" fill="url(#pg)"/><circle cx="0" cy="-0.500" r="14.200" fill="#fff"/><rect x="-8" y="-8.500" width="16.300" height="16" fill="#0b95fb"/></g>
<defs><linearGradient id="rg" gradientUnits="userSpaceOnUse" x1="80" y1="1375" x2="124" y2="1370"><stop offset="0" stop-color="#d20000"/><stop offset="0.350" stop-color="#d81818"/><stop offset="1" stop-color="#f7b4b4"/></linearGradient></defs>
<polygon points="60.400,1353.800 134.600,1365.400 74.600,1410.800 78.300,1381.200" fill="#fafafa"/><polyline points="134.600,1365.400 60.400,1353.800 78.300,1381.200 74.600,1410.800" stroke="#2b2b2b" stroke-width="1.300" fill="none" stroke-linejoin="miter"/><polygon points="72.500,1361.700 124.600,1369.600 82.100,1400.800 85,1380" fill="url(#rg)"/>
<g font-size="33.500" stroke="#fff" stroke-opacity="0.800" stroke-width="3.500" paint-order="stroke" stroke-linejoin="round"><text x="13" y="1475" textLength="108.500" lengthAdjust="spacing"><tspan fill="#4285f4">G</tspan><tspan fill="#ea4335">o</tspan><tspan fill="#fbbc05">o</tspan><tspan fill="#4285f4">g</tspan><tspan fill="#34a853">l</tspan><tspan fill="#ea4335">e</tspan></text></g>
<circle cx="701.900" cy="330.500" r="9.500" fill="#fff" stroke="#cfd8d2" stroke-width="1"/></svg></div>
<div class="t" style="left:740.07px;top:28.14px;font-size:46.5px;letter-spacing:0.306px;color:#fff;font-weight:700;">14.06.2025 08:56:02</div>
<svg class="r" style="left:1268px;top:20px" width="48" height="48" viewBox="0 0 24 24"><path fill="#fff" d="M18 16.08c-.76 0-1.44.3-1.96.77L8.91 12.7c.05-.23.09-.46.09-.7s-.04-.47-.09-.7l7.05-4.11c.54.5 1.25.81 2.04.81 1.66 0 3-1.34 3-3s-1.34-3-3-3-3 1.34-3 3c0 .24.04.47.09.7L8.04 9.81C7.5 9.31 6.79 9 6 9c-1.66 0-3 1.34-3 3s1.34 3 3 3c.79 0 1.5-.31 2.04-.81l7.12 4.16c-.05.21-.08.43-.08.65 0 1.61 1.31 2.92 2.92 2.92s2.92-1.31 2.92-2.92c0-1.61-1.31-2.92-2.92-2.92zM18 4c.55 0 1 .45 1 1s-.45 1-1 1-1-.45-1-1 .45-1 1-1zM6 13c-.55 0-1-.45-1-1s.45-1 1-1 1 .45 1 1-.45 1-1 1zm12 7.02c-.55 0-1-.45-1-1s.45-1 1-1 1 .45 1 1-.45 1-1 1z"/></svg>
<svg class="r" style="left:1364px;top:19.500px" width="48" height="48" viewBox="0 0 24 24"><path fill="#fff" d="M18 15v3H6v-3H4v3c0 1.1.9 2 2 2h12c1.100 0 2-.9 2-2v-3h-2zm-1-4l-1.410-1.410L13 12.170V4h-2v8.170L8.410 9.590 7 11l5 5 5-5z"/></svg>
<div class="t" style="left:772.10px;top:114.81px;font-size:81.5px;letter-spacing:-1.438px;color:#fff;">22,67</div>
<div class="t" style="left:975.47px;top:152.06px;font-size:37.5px;letter-spacing:2.011px;color:#fff;">km</div>
<div class="t" style="left:767.62px;top:211.29px;font-size:26px;letter-spacing:2.915px;color:#c2c2c2;">STRECKENLÄNGE</div>
<div class="t" style="left:1168.36px;top:114.81px;font-size:81.5px;letter-spacing:0.874px;color:#fff;">64</div>
<div class="t" style="left:1266.47px;top:152.06px;font-size:37.5px;letter-spacing:1.900px;color:#fff;">km/h</div>
<div class="t" style="left:1220.37px;top:211.79px;font-size:26px;letter-spacing:5.814px;color:#c2c2c2;">MAX.</div>
<div class="t" style="left:1116.19px;top:241.79px;font-size:26px;letter-spacing:3.028px;color:#c2c2c2;">GESCHWINDIGKEIT</div>
<div class="r" style="left:720px;top:287px;width:720px;height:2px;background:#5b5b5b;"></div>
<div class="r" style="left:720px;top:553px;width:720px;height:2px;background:#5b5b5b;"></div>
<div class="r" style="left:720px;top:927px;width:720px;height:2px;background:#5b5b5b;"></div>
<div class="r" style="left:720px;top:1268px;width:720px;height:2px;background:#5b5b5b;"></div>
<div class="r" style="left:720px;top:1642px;width:720px;height:2px;background:#5b5b5b;"></div>
<div class="r" style="left:720px;top:1752px;width:720px;height:2px;background:#5b5b5b;"></div>
<div class="t" style="left:747.82px;top:305.01px;font-size:81.5px;letter-spacing:-1.668px;color:#fff;">07:25:04</div>
<div class="t" style="left:1136.90px;top:305.01px;font-size:81.5px;letter-spacing:-2.312px;color:#fff;">3,06</div>
<div class="t" style="left:1297.47px;top:342.26px;font-size:37.5px;letter-spacing:1.233px;color:#fff;">km/h</div>
<div class="t" style="left:773.96px;top:400.14px;font-size:18.5px;letter-spacing:1.784px;color:#c2c2c2;">AUFZEICHNUNGSDAUER</div>
<div class="t" style="left:1066.98px;top:400.14px;font-size:18.5px;letter-spacing:1.848px;color:#c2c2c2;">DURCHSCHNITTSGESCHWINDIGKEIT</div>
<div class="t" style="left:796.97px;top:431.98px;font-size:52px;letter-spacing:0.440px;color:#fff;">05:47:19</div>
<div class="t" style="left:1163.02px;top:431.98px;font-size:52px;letter-spacing:-0.204px;color:#fff;">3,92</div>
<div class="t" style="left:1271.47px;top:444.26px;font-size:37.5px;letter-spacing:1.567px;color:#fff;">km/h</div>
<div class="t" style="left:798.48px;top:496.14px;font-size:18.5px;letter-spacing:1.369px;color:#c2c2c2;">BEWEGUNGSDAUER</div>
<div class="t" style="left:1142.48px;top:496.14px;font-size:18.5px;letter-spacing:2.148px;color:#c2c2c2;">DURCHSCHNITTLICHE</div>
<div class="t" style="left:1093.48px;top:516.64px;font-size:18.5px;letter-spacing:1.516px;color:#c2c2c2;">BEWEGUNGSGESCHWINDIGKEIT</div>
<div class="t" style="left:811.18px;top:945.01px;font-size:81.5px;letter-spacing:-0.738px;color:#fff;">970</div>
<div class="t" style="left:955.01px;top:982.26px;font-size:37.5px;letter-spacing:0.000px;color:#fff;">m</div>
<div class="t" style="left:1174.24px;top:945.01px;font-size:81.5px;letter-spacing:-1.414px;color:#fff;">564</div>
<div class="t" style="left:1315.01px;top:982.26px;font-size:37.5px;letter-spacing:0.000px;color:#fff;">m</div>
<div class="t" style="left:786.98px;top:1040.14px;font-size:18.5px;letter-spacing:1.732px;color:#c2c2c2;">HÖHENUNTERSCHIED</div>
<div class="t" style="left:1139.92px;top:1040.14px;font-size:18.5px;letter-spacing:1.732px;color:#c2c2c2;">VERTIKALER AUFSTIEG</div>
<div class="t" style="left:818.54px;top:1071.98px;font-size:52px;letter-spacing:1.107px;color:#fff;">1451</div>
<div class="t" style="left:947.51px;top:1084.26px;font-size:37.5px;letter-spacing:0.000px;color:#fff;">m</div>
<div class="t" style="left:1178.54px;top:1071.98px;font-size:52px;letter-spacing:1.081px;color:#fff;">1579</div>
<div class="t" style="left:1307.51px;top:1084.26px;font-size:37.5px;letter-spacing:0.000px;color:#fff;">m</div>
<div class="t" style="left:809.98px;top:1136.14px;font-size:18.5px;letter-spacing:2.343px;color:#c2c2c2;">MAXIMALE HÖHE</div>
<div class="t" style="left:1153.42px;top:1136.14px;font-size:18.5px;letter-spacing:1.881px;color:#c2c2c2;">VERTIKALE DISTANZ</div>
<div class="t" style="left:834.81px;top:1167.48px;font-size:52px;letter-spacing:0.486px;color:#fff;">481</div>
<div class="t" style="left:932.51px;top:1179.76px;font-size:37.5px;letter-spacing:0.000px;color:#fff;">m</div>
<div class="t" style="left:1172.97px;top:1167.48px;font-size:52px;letter-spacing:-0.139px;color:#fff;">0,08</div>
<div class="t" style="left:1282.51px;top:1179.76px;font-size:37.5px;letter-spacing:1.719px;color:#fff;">m/s</div>
<div class="t" style="left:811.98px;top:1231.64px;font-size:18.5px;letter-spacing:2.483px;color:#c2c2c2;">MINIMALE HÖHE</div>
<div class="t" style="left:1099.92px;top:1231.64px;font-size:18.5px;letter-spacing:1.680px;color:#c2c2c2;">VERTIKALE GESCHWINDIGKEIT</div>
<div class="t" style="left:855.21px;top:1683.17px;font-size:28.5px;letter-spacing:1.825px;color:#c2c2c2;">SKISTATISTIK</div>
<div class="t" style="left:1319.25px;top:1682.11px;font-size:30px;letter-spacing:2.595px;color:#91cac4;font-weight:700;">AUF</div>
<svg class="r" style="left:1196px;top:1672px" width="48" height="48" viewBox="0 0 24 24"><path fill="#c6c6c6" d="M18.5 4.500c0 1.100-.9 2-2 2s-2-.9-2-2 .9-2 2-2 2 .9 2 2zM15.780 20.900l.76.270c.62.210 1.270.330 1.960.330.840 0 1.650-.180 2.380-.5L22 22.130c-.95.550-2.200.870-3.500.870-.86 0-1.680-.140-2.450-.410L2 17.470l.5-1.410 6.900 2.510 1.720-4.440-3.570-3.730c-.89-.940-.67-2.470.450-3.120l3.480-2.010c1.100-.640 2.520-.1 2.910 1.110l.33 1.080c.440 1.420 1.480 2.570 2.830 3.140l.520-1.600 1.430.460-1.060 3.270c-2.330-.430-4.310-1.920-5.360-4.010l-.470-1.050-2.580 1.490 3.230 3.700-2.530 6.600 3.610 1.310 2.280-7.020c.49.220 1 .41 1.540.550l-2.380 7.700z"/></svg>
<div class="t" style="left:798.54px;top:1773.48px;font-size:52px;letter-spacing:1.725px;color:#fff;">12°</div>
<div class="t" style="left:1031.69px;top:1773.48px;font-size:52px;letter-spacing:0.161px;color:#fff;">-15°</div>
<div class="t" style="left:1286.19px;top:1773.48px;font-size:52px;letter-spacing:-0.049px;color:#fff;">-1°</div>
<div class="t" style="left:725.98px;top:1838.14px;font-size:18.5px;letter-spacing:2.158px;color:#c2c2c2;">MAXIMALE STEIGUNG</div>
<div class="t" style="left:967.48px;top:1838.14px;font-size:18.5px;letter-spacing:2.263px;color:#c2c2c2;">MINIMALE STEIGUNG</div>
<div class="t" style="left:1202.48px;top:1838.14px;font-size:18.5px;letter-spacing:2.054px;color:#c2c2c2;">DURCHSCHNITTLICHE</div>
<div class="t" style="left:1266.66px;top:1858.64px;font-size:18.5px;letter-spacing:1.729px;color:#c2c2c2;">STEIGUNG</div>
<div class="r" style="left:816px;top:847px;width:528px;height:56px;border-radius:14px;overflow:hidden;background:#505050"><div class="r" style="left:176px;top:0;width:176px;height:56px;background:#91cac4"></div></div>
<div class="t" style="left:852.46px;top:864.53px;font-size:23px;letter-spacing:0.424px;color:#fff;font-weight:700;">DISTANZ</div>
<div class="t" style="left:1019.46px;top:864.53px;font-size:23px;letter-spacing:0.232px;color:#fff;font-weight:700;">DAUER (S)</div>
<div class="t" style="left:1199.46px;top:864.53px;font-size:23px;letter-spacing:0.413px;color:#fff;font-weight:700;">DAUER (I)</div>
<div class="r" style="left:816px;top:1562px;width:528px;height:56px;border-radius:14px;overflow:hidden;background:#505050"><div class="r" style="left:0px;top:0;width:176px;height:56px;background:#91cac4"></div></div>
<div class="t" style="left:852.46px;top:1579.53px;font-size:23px;letter-spacing:0.424px;color:#fff;font-weight:700;">DISTANZ</div>
<div class="t" style="left:1019.46px;top:1579.53px;font-size:23px;letter-spacing:0.232px;color:#fff;font-weight:700;">DAUER (S)</div>
<div class="t" style="left:1199.46px;top:1579.53px;font-size:23px;letter-spacing:0.413px;color:#fff;font-weight:700;">DAUER (I)</div>
<svg class="r" style="left:0;top:0" width="1440" height="1895"><rect x="834" y="614" width="507" height="2" fill="#565656"/><rect x="834" y="654.5" width="507" height="2" fill="#565656"/><rect x="834" y="695" width="507" height="2" fill="#565656"/><rect x="834" y="735.5" width="507" height="2" fill="#565656"/><rect x="917.3000000000001" y="615" width="1.8" height="162" fill="#565656"/><rect x="1001.4" y="615" width="1.8" height="162" fill="#565656"/><rect x="1085.6" y="615" width="1.8" height="162" fill="#565656"/><rect x="1169.8" y="615" width="1.8" height="162" fill="#565656"/><rect x="1254.6" y="615" width="1.8" height="162" fill="#565656"/><rect x="1339.1" y="615" width="1.8" height="162" fill="#565656"/><polyline fill="none" stroke="#91cac4" stroke-width="3.4" stroke-linejoin="round" stroke-linecap="round" points="836.0,777.0 837.3,776.7 838.7,776.3 840.0,776.0 842.0,768.5 843.3,767.7 844.7,765.3 846.0,765.6 847.4,764.5 848.8,765.0 850.2,765.9 851.6,764.9 853.0,766.2 855.0,776.0 857.0,776.0 858.5,764.7 859.8,765.6 861.1,765.6 862.3,764.7 863.6,763.7 864.9,765.5 866.2,765.2 867.4,764.2 868.7,763.3 870.0,764.3 871.2,765.1 872.5,764.0 873.8,766.8 875.0,765.1 876.2,766.2 877.5,766.2 878.8,765.9 880.0,765.0 881.2,763.7 882.5,765.3 883.7,764.3 884.9,764.1 886.2,764.8 887.4,764.4 888.6,765.6 889.8,765.6 891.1,765.3 892.3,764.0 893.5,764.7 894.8,765.0 896.0,764.3 897.3,765.8 898.7,767.4 900.0,767.2 901.2,769.0 902.5,771.7 903.8,772.4 905.0,774.0 906.5,775.2 908.0,776.5 909.5,776.0 910.5,763.5 911.7,763.9 912.9,765.1 914.2,763.3 915.4,765.5 916.6,764.7 917.8,763.8 919.0,765.4 920.2,764.5 921.5,765.7 922.7,764.1 923.9,763.8 925.1,764.3 926.3,763.5 927.6,765.0 928.8,764.0 930.0,764.3 931.2,764.3 932.5,764.7 933.8,763.7 935.0,763.5 936.2,764.7 937.5,764.3 938.8,765.9 940.0,764.2 941.2,764.4 942.5,763.5 943.8,764.0 945.0,765.4 946.2,765.2 947.5,764.5 948.8,766.2 950.0,765.1 951.2,765.9 952.5,766.1 953.7,766.3 954.9,764.5 956.2,766.2 957.4,765.9 958.6,765.6 959.8,764.3 961.1,766.4 962.3,765.5 963.5,765.3 964.8,764.5 966.0,764.7 967.2,765.3 968.4,767.5 969.6,767.8 970.8,768.7 972.0,768.0 973.2,768.6 974.4,771.5 975.6,772.2 976.8,772.5 978.0,773.3 979.2,773.8 980.5,774.4 981.8,775.2 983.0,776.0 984.4,776.0 985.8,776.0 987.1,776.0 988.5,776.0 989.5,765.1 990.8,765.9 992.1,764.8 993.4,765.0 994.8,764.6 996.1,763.6 997.4,764.4 998.7,764.9 1000.0,764.7 1001.3,765.5 1002.7,768.2 1004.0,767.0 1005.3,766.1 1006.7,764.7 1008.0,763.7 1009.3,764.9 1010.7,764.9 1012.0,765.8 1013.3,764.5 1014.7,766.1 1016.0,766.1 1017.3,767.4 1018.7,769.2 1020.0,770.4 1021.3,772.0 1022.7,773.0 1024.0,772.9 1025.2,773.1 1026.5,772.8 1027.7,773.3 1028.9,772.4 1030.2,772.7 1031.4,773.4 1032.6,773.3 1033.8,773.3 1035.1,773.4 1036.3,773.7 1037.5,772.9 1038.8,772.8 1040.0,773.5 1041.2,773.5 1042.5,774.0 1043.8,774.0 1045.0,773.8 1046.2,773.9 1047.5,773.2 1048.8,774.0 1050.0,774.2 1051.2,773.1 1052.5,773.7 1053.8,774.1 1055.0,773.7 1056.2,774.3 1057.5,773.7 1058.8,773.2 1060.0,773.4 1061.2,773.5 1062.5,774.0 1063.8,773.9 1065.0,774.1 1066.2,773.4 1067.5,773.6 1068.8,773.3 1070.0,773.9 1071.2,774.0 1072.5,773.2 1073.8,773.0 1075.0,773.2 1076.2,773.2 1077.5,773.2 1078.8,773.2 1080.0,773.8 1081.3,773.4 1082.5,773.5 1083.8,773.8 1085.1,773.7 1086.4,773.3 1087.6,773.2 1088.9,772.6 1090.2,772.2 1091.5,772.7 1092.7,772.1 1094.0,771.9 1095.2,770.4 1096.5,771.1 1097.8,770.6 1099.0,769.7 1100.2,769.7 1101.5,769.5 1102.8,768.3 1104.0,767.5 1105.2,768.1 1106.4,769.6 1107.6,769.6 1108.8,769.7 1110.0,772.1 1111.2,771.2 1112.4,771.7 1113.6,772.5 1114.8,773.1 1116.0,774.0 1117.2,774.6 1118.4,774.1 1119.6,774.8 1120.8,774.4 1122.0,775.0 1123.3,775.0 1124.6,775.0 1125.9,775.0 1127.1,775.0 1128.4,775.0 1129.7,775.0 1131.0,775.0 1133.0,771.4 1134.5,766.8 1135.9,767.1 1137.2,766.1 1138.6,767.0 1140.0,768.9 1141.2,768.5 1142.4,767.9 1143.6,765.4 1144.8,765.2 1146.0,766.4 1147.2,765.3 1148.4,765.5 1149.6,766.9 1150.8,768.3 1152.0,768.4 1153.3,769.4 1154.7,769.6 1156.0,767.0 1157.3,767.8 1158.7,768.0 1160.0,766.9 1161.2,768.4 1162.5,767.4 1163.8,767.7 1165.0,769.5 1166.2,769.6 1167.5,769.7 1168.8,770.0 1170.0,769.3 1171.2,770.0 1172.5,769.5 1173.8,770.1 1175.0,767.9 1176.2,769.3 1177.5,768.9 1178.8,768.4 1180.0,767.4 1181.2,768.8 1182.5,767.7 1183.8,768.9 1185.0,768.9 1186.2,769.1 1187.5,770.5 1188.8,769.5 1190.0,770.3 1191.4,771.1 1192.8,769.3 1194.2,771.3 1195.6,770.8 1197.0,770.4 1199.0,767.4 1200.3,769.1 1201.7,769.8 1203.0,770.9 1204.2,769.8 1205.5,771.0 1206.8,769.3 1208.0,769.7 1209.3,769.6 1210.7,768.3 1212.0,769.0 1213.3,768.8 1214.7,768.3 1216.0,767.9 1217.2,769.4 1218.4,769.3 1219.6,769.9 1220.8,770.2 1222.0,770.0 1223.2,771.2 1224.4,771.6 1225.6,772.3 1226.8,772.4 1228.0,773.3 1229.2,773.4 1230.4,773.8 1231.6,775.0 1232.8,775.1 1234.0,775.5 1235.2,775.5 1236.5,775.5 1237.7,775.5 1238.9,775.5 1240.2,775.5 1241.4,775.5 1242.6,775.5 1243.8,775.5 1245.1,775.5 1246.3,775.5 1247.5,775.5 1248.8,775.5 1250.0,775.5 1251.3,774.6 1252.7,773.3 1254.0,772.6 1255.2,772.9 1256.4,772.5 1257.6,771.7 1258.8,772.1 1260.0,771.2 1261.2,770.5 1262.4,767.9 1263.6,766.5 1264.8,765.1 1266.0,765.9 1267.2,764.8 1268.4,765.4 1269.6,767.1 1270.8,765.6 1272.0,765.8 1273.3,767.8 1274.6,766.0 1275.9,767.6 1277.2,767.4 1278.5,766.2 1279.8,766.7 1281.1,768.6 1282.4,768.0 1283.7,767.9 1285.0,768.4 1286.2,768.7 1287.5,768.3 1288.8,767.2 1290.0,768.9 1291.2,767.4 1292.5,767.7 1293.8,768.7 1295.0,767.8 1296.2,766.9 1297.5,767.1 1298.8,768.2 1300.0,765.7 1301.2,766.2 1302.5,765.6 1303.8,767.8 1305.0,767.4 1306.2,767.9 1307.5,765.9 1308.8,767.2 1310.0,767.5 1311.3,766.5 1312.7,765.1 1315.5,765.2 1316.0,764.9 1316.4,682.8 1316.9,758.3 1317.3,660.9 1317.8,764.4 1318.2,675.2 1318.7,762.4 1319.1,675.0 1319.6,750.1 1320.0,672.3 1320.5,758.5 1320.9,658.5 1321.4,764.0 1321.8,653.0 1322.3,752.8 1322.7,652.4 1323.2,741.8 1323.6,659.0 1324.1,741.1 1324.5,634.3 1325.0,734.3 1325.4,615.0 1325.9,752.5 1326.3,615.0 1326.8,760.6 1327.2,648.2 1327.7,766.7 1328.1,689.5 1328.6,765.6 1329.0,698.5 1329.5,760.7 1329.9,709.6 1330.4,765.9 1330.8,725.4 1331.3,770.4 1331.7,744.4 1332.2,770.9 1332.6,763.6 1334.0,769.0 1337.0,768.5 1339.0,770.0 1340.0,776.0"/><rect x="832" y="575" width="4" height="239.5" fill="#91cac4"/><rect x="740" y="775" width="680" height="4" fill="#91cac4"/><rect x="828" y="613" width="12" height="4" fill="#91cac4"/><rect x="828" y="653.5" width="12" height="4" fill="#91cac4"/><rect x="828" y="694" width="12" height="4" fill="#91cac4"/><rect x="828" y="734.5" width="12" height="4" fill="#91cac4"/><rect x="916.2" y="771" width="4" height="11.5" fill="#91cac4"/><rect x="1000.3" y="771" width="4" height="11.5" fill="#91cac4"/><rect x="1084.5" y="771" width="4" height="11.5" fill="#91cac4"/><rect x="1168.7" y="771" width="4" height="11.5" fill="#91cac4"/><rect x="1253.5" y="771" width="4" height="11.5" fill="#91cac4"/><rect x="1338" y="771" width="4" height="11.5" fill="#91cac4"/></svg>
<div class="t" style="left:796.98px;top:607.57px;font-size:20px;letter-spacing:1.855px;color:#91cac4;">64</div>
<div class="t" style="left:797.54px;top:648.07px;font-size:20px;letter-spacing:1.582px;color:#91cac4;">48</div>
<div class="t" style="left:797.24px;top:688.57px;font-size:20px;letter-spacing:2.021px;color:#91cac4;">32</div>
<div class="t" style="left:763.48px;top:729.07px;font-size:20px;letter-spacing:1.745px;color:#91cac4;">15,97</div>
<div class="t" style="left:895.98px;top:791.87px;font-size:20px;letter-spacing:2.061px;color:#91cac4;">1:14</div>
<div class="t" style="left:979.99px;top:791.87px;font-size:20px;letter-spacing:2.483px;color:#91cac4;">2:28</div>
<div class="t" style="left:1064.74px;top:791.87px;font-size:20px;letter-spacing:2.447px;color:#91cac4;">3:42</div>
<div class="t" style="left:1149.04px;top:791.87px;font-size:20px;letter-spacing:2.304px;color:#91cac4;">4:56</div>
<div class="t" style="left:1232.78px;top:791.87px;font-size:20px;letter-spacing:2.190px;color:#91cac4;">6:10</div>
<div class="t" style="left:1316.97px;top:791.87px;font-size:20px;letter-spacing:2.518px;color:#91cac4;">7:25St:M</div>
<div class="t" style="left:765.45px;top:578.07px;font-size:20px;letter-spacing:4.336px;color:#91cac4;">km/h</div>
<div class="t" style="left:914.49px;top:578.07px;font-size:20px;letter-spacing:1.417px;color:#91cac4;">GESCHWINDIGKEITSDIAGRAMM</div>
<svg class="r" style="left:0;top:0" width="1440" height="1895"><rect x="831" y="1329" width="510" height="2" fill="#565656"/><rect x="831" y="1369.5" width="510" height="2" fill="#565656"/><rect x="831" y="1410" width="510" height="2" fill="#565656"/><rect x="831" y="1450.5" width="510" height="2" fill="#565656"/><rect x="914.6" y="1330" width="1.8" height="162" fill="#565656"/><rect x="999.6" y="1330" width="1.8" height="162" fill="#565656"/><rect x="1084.3999999999999" y="1330" width="1.8" height="162" fill="#565656"/><rect x="1169.1" y="1330" width="1.8" height="162" fill="#565656"/><rect x="1254.1" y="1330" width="1.8" height="162" fill="#565656"/><rect x="1339.1" y="1330" width="1.8" height="162" fill="#565656"/><polyline fill="none" stroke="#91cac4" stroke-width="4" stroke-linejoin="round" stroke-linecap="round" points="833.0,1412.2 835.5,1413.5 838.0,1414.4 840.2,1415.4 842.5,1416.1 845.2,1415.3 848.0,1415.0 850.0,1416.6 852.0,1416.8 854.5,1416.2 857.0,1416.5 859.8,1416.7 862.5,1417.8 865.0,1417.1 867.5,1417.0 870.0,1416.2 872.0,1416.3 874.0,1416.3 876.0,1415.6 878.0,1415.5 880.0,1415.2 882.0,1414.2 884.0,1414.5 886.0,1413.9 888.0,1413.2 890.0,1412.5 892.0,1413.0 894.0,1412.2 896.0,1412.0 898.0,1411.8 900.0,1411.2 902.0,1410.9 904.0,1409.9 906.0,1409.8 908.0,1408.9 910.0,1408.9 912.0,1408.4 914.0,1407.1 916.0,1406.6 918.0,1406.2 920.0,1406.5 922.0,1406.9 924.0,1408.1 927.5,1408.8 931.0,1407.5 933.0,1408.0 935.0,1408.7 937.5,1408.6 940.0,1408.4 942.5,1408.4 944.9,1407.8 947.2,1407.7 949.6,1407.2 952.0,1407.0 954.2,1406.4 956.3,1405.7 958.5,1406.1 960.7,1406.0 962.8,1405.7 965.0,1405.1 967.5,1405.7 970.0,1405.7 973.8,1407.8 975.9,1406.6 978.0,1405.3 980.3,1403.9 982.7,1403.5 985.0,1402.5 987.5,1401.3 990.0,1401.8 992.3,1401.1 994.7,1400.5 997.0,1400.3 999.0,1399.3 1001.0,1401.4 1003.0,1400.0 1005.0,1400.1 1007.5,1399.8 1010.0,1400.7 1012.5,1399.1 1015.0,1398.4 1017.5,1398.2 1020.0,1397.5 1022.5,1397.2 1025.0,1395.8 1027.5,1395.8 1030.0,1396.6 1032.5,1395.3 1035.0,1394.7 1037.5,1394.4 1040.0,1394.1 1043.0,1389.7 1045.0,1386.2 1047.0,1383.7 1049.0,1379.8 1051.0,1377.1 1053.0,1373.7 1055.0,1369.9 1057.0,1366.7 1059.0,1363.5 1061.0,1360.4 1063.0,1357.1 1065.0,1354.3 1067.0,1351.6 1069.0,1349.2 1071.0,1346.0 1073.5,1344.9 1076.0,1344.2 1078.0,1343.1 1080.0,1342.6 1082.5,1343.6 1085.0,1343.5 1087.0,1342.5 1089.0,1341.0 1091.0,1340.4 1093.2,1339.6 1095.3,1338.0 1097.5,1337.6 1100.0,1337.1 1102.5,1334.6 1105.0,1333.1 1107.0,1332.5 1109.0,1332.2 1111.8,1329.9 1114.0,1334.2 1116.3,1339.2 1118.7,1343.4 1121.0,1348.4 1123.5,1352.1 1126.0,1355.5 1128.5,1358.3 1131.0,1362.0 1133.8,1364.6 1137.0,1370.8 1139.0,1374.8 1141.0,1378.6 1143.5,1380.5 1146.0,1382.6 1148.0,1385.8 1150.0,1389.4 1152.0,1393.3 1154.0,1396.2 1156.0,1400.3 1158.0,1404.1 1160.0,1407.3 1162.0,1405.2 1163.8,1406.3 1165.9,1409.2 1168.0,1412.7 1170.3,1416.9 1172.7,1421.2 1175.0,1424.6 1177.0,1426.6 1179.0,1428.3 1181.4,1429.3 1183.8,1429.4 1186.0,1433.4 1189.0,1437.7 1191.0,1436.3 1193.8,1437.2 1197.0,1442.4 1199.0,1445.0 1201.0,1447.7 1203.0,1448.0 1205.0,1448.8 1207.0,1450.6 1209.0,1453.2 1211.0,1455.3 1213.6,1457.4 1216.2,1460.1 1218.8,1463.3 1220.9,1464.1 1223.0,1465.3 1225.2,1466.1 1227.5,1467.1 1229.8,1469.5 1232.0,1472.3 1234.0,1473.5 1236.0,1475.3 1238.5,1476.2 1241.0,1476.9 1243.2,1477.7 1245.3,1479.1 1247.5,1479.2 1249.7,1479.8 1251.8,1481.6 1254.0,1482.4 1256.0,1483.3 1258.0,1483.6 1260.0,1485.0 1262.0,1485.6 1264.0,1485.5 1266.0,1486.6 1268.0,1487.3 1270.3,1487.8 1272.7,1488.2 1275.0,1488.6 1277.2,1488.8 1279.5,1488.9 1281.8,1488.9 1284.0,1489.6 1286.1,1489.4 1288.2,1490.1 1290.4,1489.4 1292.5,1490.4 1295.2,1490.7 1298.0,1491.4 1300.2,1491.4 1302.5,1491.4 1304.7,1490.7 1306.8,1489.8 1309.0,1490.2 1311.0,1489.7 1313.0,1489.8 1315.0,1490.2 1317.3,1490.2 1319.7,1490.2 1322.0,1490.9 1324.0,1490.6 1326.0,1490.3 1328.0,1490.3 1330.0,1490.9 1332.5,1491.0 1335.0,1491.8 1337.0,1489.4 1340.0,1487.5"/><rect x="829" y="1290" width="4" height="239.5" fill="#91cac4"/><rect x="740" y="1490" width="680" height="4" fill="#91cac4"/><rect x="825" y="1328" width="12" height="4" fill="#91cac4"/><rect x="825" y="1368.5" width="12" height="4" fill="#91cac4"/><rect x="825" y="1409" width="12" height="4" fill="#91cac4"/><rect x="825" y="1449.5" width="12" height="4" fill="#91cac4"/><rect x="913.5" y="1486" width="4" height="11.5" fill="#91cac4"/><rect x="998.5" y="1486" width="4" height="11.5" fill="#91cac4"/><rect x="1083.3" y="1486" width="4" height="11.5" fill="#91cac4"/><rect x="1168" y="1486" width="4" height="11.5" fill="#91cac4"/><rect x="1253" y="1486" width="4" height="11.5" fill="#91cac4"/><rect x="1338" y="1486" width="4" height="11.5" fill="#91cac4"/></svg>
<div class="t" style="left:765.98px;top:1322.57px;font-size:20px;letter-spacing:2.169px;color:#91cac4;">1451</div>
<div class="t" style="left:765.98px;top:1363.57px;font-size:20px;letter-spacing:2.326px;color:#91cac4;">1209</div>
<div class="t" style="left:780.06px;top:1404.07px;font-size:20px;letter-spacing:1.974px;color:#91cac4;">966</div>
<div class="t" style="left:779.97px;top:1445.07px;font-size:20px;letter-spacing:1.871px;color:#91cac4;">724</div>
<div class="t" style="left:894.24px;top:1506.87px;font-size:20px;letter-spacing:1.735px;color:#91cac4;">3,78</div>
<div class="t" style="left:978.97px;top:1506.87px;font-size:20px;letter-spacing:1.826px;color:#91cac4;">7,56</div>
<div class="t" style="left:1056.98px;top:1506.87px;font-size:20px;letter-spacing:1.840px;color:#91cac4;">11,34</div>
<div class="t" style="left:1142.28px;top:1506.87px;font-size:20px;letter-spacing:1.870px;color:#91cac4;">15,12</div>
<div class="t" style="left:1226.48px;top:1506.87px;font-size:20px;letter-spacing:2.055px;color:#91cac4;">18,89</div>
<div class="t" style="left:1310.99px;top:1506.87px;font-size:20px;letter-spacing:1.866px;color:#91cac4;">22,67</div>
<div class="t" style="left:1381.65px;top:1506.87px;font-size:20px;letter-spacing:5.506px;color:#91cac4;">km</div>
<div class="t" style="left:799.47px;top:1293.07px;font-size:20px;letter-spacing:0.000px;color:#91cac4;">m</div>
<div class="t" style="left:985.36px;top:1293.07px;font-size:20px;letter-spacing:1.588px;color:#91cac4;">HÖHENDIAGRAMM</div>
</body></html>
